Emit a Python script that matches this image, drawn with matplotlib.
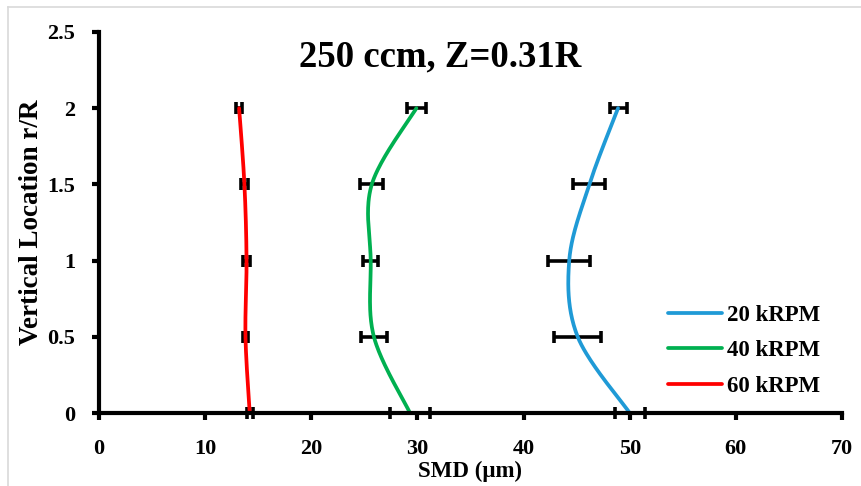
import numpy as np
import matplotlib
matplotlib.use("Agg")
import matplotlib.pyplot as plt
from matplotlib.lines import Line2D

# ---- data ----
r_over_R = [0, 0.5, 1, 1.5, 2]
smd_20k = [50.0, 45.1, 44.3, 46.2, 48.9]
err_20k = [1.4, 2.2, 2.0, 1.5, 0.8]
smd_40k = [29.3, 25.9, 25.6, 25.7, 29.9]
err_40k = [1.9, 1.2, 0.7, 1.1, 0.9]
smd_60k = [14.2, 13.8, 13.9, 13.7, 13.2]
err_60k = [0.3, 0.25, 0.35, 0.3, 0.3]
labels = ["20 kRPM", "40 kRPM", "60 kRPM"]
colors = ["#1f9ad6", "#00b050", "#ff0000"]
x_ticks = [0, 10, 20, 30, 40, 50, 60, 70]
y_ticks = [0, 0.5, 1, 1.5, 2, 2.5]
y_tick_labels = ["0", "0.5", "1", "1.5", "2", "2.5"]


def smooth(xs, ys, n=40):
    """Catmull-Rom (Excel-like smoothed line) through the points."""
    P = np.column_stack([xs, ys]).astype(float)
    P = np.vstack([P[0], P, P[-1]])
    out = []
    t = np.linspace(0, 1, n)
    for i in range(1, len(P) - 2):
        p0, p1, p2, p3 = P[i - 1], P[i], P[i + 1], P[i + 2]
        c1 = p1 + (p2 - p0) / 6.0
        c2 = p2 - (p3 - p1) / 6.0
        tt = t[:, None]
        seg = ((1 - tt) ** 3) * p1 + 3 * ((1 - tt) ** 2) * tt * c1 + 3 * (1 - tt) * tt ** 2 * c2 + tt ** 3 * p2
        out.append(seg if i == 1 else seg[1:])
    out = np.vstack(out)
    return out[:, 0], out[:, 1]


plt.rcParams['font.family'] = ['Liberation Serif', 'DejaVu Serif']
plt.rcParams['font.weight'] = 'bold'

fig = plt.figure(figsize=(8.61, 4.86), dpi=100)
# light chart-area border (top and left visible)
fig.add_artist(Line2D([7.5 / 861, 1.0], [1 - 7.5 / 486, 1 - 7.5 / 486], transform=fig.transFigure,
                      color="#d9d9d9", linewidth=1.2))
fig.add_artist(Line2D([7.5 / 861, 7.5 / 861], [0.0, 1 - 7.5 / 486], transform=fig.transFigure,
                      color="#d9d9d9", linewidth=1.2))
ax = fig.add_axes([99 / 861, 73 / 486, 743 / 861, 381 / 486])

for xs, es, lab, col in zip([smd_20k, smd_40k, smd_60k], [err_20k, err_40k, err_60k], labels, colors):
    ax.errorbar(xs, r_over_R, xerr=es, fmt='none', ecolor='black', elinewidth=2.6,
                capsize=4, capthick=2.6, clip_on=False, zorder=3)
    sx, sy = smooth(xs, r_over_R)
    ax.plot(sx, sy, color=col, linewidth=2.7, label=lab, clip_on=False, zorder=4,
            solid_capstyle='round')

ax.set_xlim(0, 70)
ax.set_ylim(0, 2.5)
ax.set_xticks(x_ticks)
ax.set_yticks(y_ticks)
ax.set_yticklabels(y_tick_labels)
for s in ['top', 'right']:
    ax.spines[s].set_visible(False)
for s in ['left', 'bottom']:
    ax.spines[s].set_linewidth(3.0)
    ax.spines[s].set_zorder(5)
ax.tick_params(axis='x', direction='out', length=5, width=3.0, labelsize=16, pad=14)
ax.tick_params(axis='y', direction='out', length=5, width=3.0, labelsize=16, pad=12)
for lbl in ax.get_xticklabels() + ax.get_yticklabels():
    lbl.set_fontweight('bold')

ax.text(0.459, 0.935, "250 ccm, Z=0.31R", transform=ax.transAxes, ha='center', va='center',
        fontsize=26.5, fontweight='bold')
fig.text(470 / 861, 1 - 471 / 486, "SMD (μm)", ha='center', va='center', fontsize=16.5, fontweight='bold')
fig.text(32 / 861, 1 - 222 / 486, "Vertical Location r/R", ha='center', va='center', rotation=90,
         fontsize=19.5, fontweight='bold')

leg = ax.legend(loc='upper left', bbox_to_anchor=(0.766, 0.283), frameon=False, fontsize=16.5,
                handlelength=2.35, handletextpad=0.22, labelspacing=0.62, borderpad=0, borderaxespad=0)
for t in leg.get_texts():
    t.set_fontweight('bold')
for h in leg.get_lines():
    h.set_linewidth(2.7)

fig.savefig("out.png", dpi=100)
